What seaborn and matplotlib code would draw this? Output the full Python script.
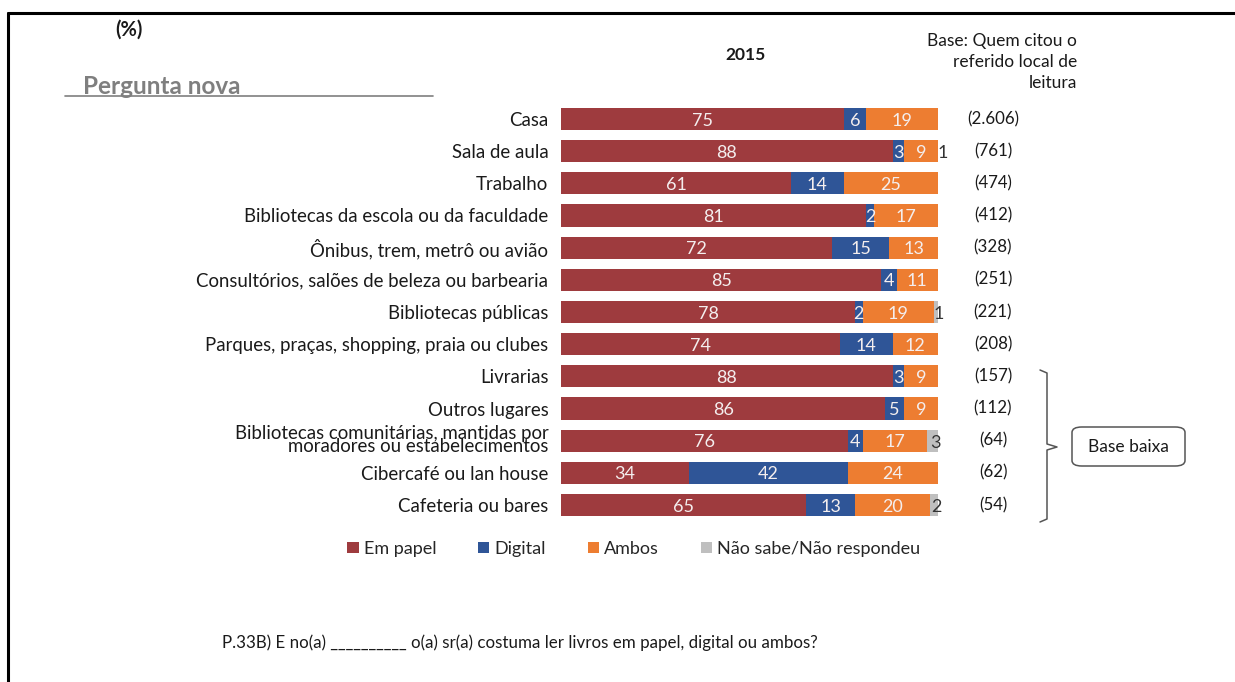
import numpy as np
import pandas as pd
import matplotlib
matplotlib.use("Agg")
import matplotlib.pyplot as plt
import seaborn as sns
from matplotlib.patches import FancyBboxPatch, Patch
from matplotlib.lines import Line2D

# ---- data -------------------------------------------------------------
locais = [
    "Casa",
    "Sala de aula",
    "Trabalho",
    "Bibliotecas da escola ou da faculdade",
    "Ônibus, trem, metrô ou avião",
    "Consultórios, salões de beleza ou barbearia",
    "Bibliotecas públicas",
    "Parques, praças, shopping, praia ou clubes",
    "Livrarias",
    "Outros lugares",
    "Bibliotecas comunitárias, mantidas por\nmoradores ou estabelecimentos",
    "Cibercafé ou lan house",
    "Cafeteria ou bares",
]
em_papel = [75, 88, 61, 81, 72, 85, 78, 74, 88, 86, 76, 34, 65]
digital = [6, 3, 14, 2, 15, 4, 2, 14, 3, 5, 4, 42, 13]
ambos = [19, 9, 25, 17, 13, 11, 19, 12, 9, 9, 17, 24, 20]
nao_sabe = [0, 1, 0, 0, 0, 0, 1, 0, 0, 0, 3, 0, 2]
bases = ["(2.606)", "(761)", "(474)", "(412)", "(328)", "(251)", "(221)",
         "(208)", "(157)", "(112)", "(64)", "(62)", "(54)"]

series_names = ["Em papel", "Digital", "Ambos", "Não sabe/Não respondeu"]
series_vals = [em_papel, digital, ambos, nao_sabe]
colors = ["#9E3B3E", "#2F5597", "#ED7D31", "#BFBFBF"]

sns.set_theme(style="white")
plt.rcParams["font.family"] = ["Lato", "DejaVu Sans"]

W, H = 1235, 682
fig = plt.figure(figsize=(W / 100, H / 100), dpi=100)

def fx(px):
    return px / W

def fy(py):
    return 1 - py / H

# axes for the stacked bars
ax = fig.add_axes([fx(561), fy(521.1), fx(377), (521.1 - 102.9) / H])

df = pd.DataFrame({"local": locais})
cum = np.zeros(len(locais))
cums = []
for vals in series_vals:
    cum = cum + np.array(vals, dtype=float)
    cums.append(cum.copy())

# stacked bars: draw cumulative totals from the largest to the smallest
for i in reversed(range(len(series_vals))):
    d = df.copy()
    d["v"] = cums[i]
    sns.barplot(data=d, x="v", y="local", orient="h", color=colors[i],
                saturation=1, width=0.69, ax=ax, linewidth=0)

ax.set_xlim(0, 100)
ax.set_ylim(len(locais) - 0.5, -0.5)
ax.set_xlabel("")
ax.set_ylabel("")
ax.set_xticks([])
for s in ax.spines.values():
    s.set_visible(False)
ax.tick_params(axis="y", length=0, pad=9, labelsize=13.4, colors="#1a1a1a")
for lab in ax.get_yticklabels():
    lab.set_linespacing(0.72)

# value labels
for r in range(len(locais)):
    start = 0.0
    for i, vals in enumerate(series_vals):
        v = vals[r]
        if v > 0:
            if i < 3:
                ax.text(start + v / 2, r + 0.05, str(v), ha="center", va="center",
                        fontsize=13, color="#F4EEEE")
            else:
                ax.text(start + v / 2 + 0.7, r + 0.07, str(v), ha="center", va="center",
                        fontsize=13, color="#333333")
        start += v

# base sizes column
for r, b in enumerate(bases):
    yc = 119 + r * (505 - 119) / 12
    fig.text(fx(993), fy(yc), b, ha="center", va="center", fontsize=12.2, color="#1a1a1a")

# header texts
fig.text(fx(129), fy(30), "(%)", ha="center", va="center", fontsize=14.5,
         fontweight="bold", color="#1a1a1a")
fig.text(fx(746), fy(55), "2015", ha="center", va="center", fontsize=12.5,
         fontweight="bold", color="#1a1a1a")
fig.text(fx(1077), fy(62), "Base: Quem citou o\nreferido local de\nleitura", ha="right",
         va="center", fontsize=12.5, color="#1a1a1a", linespacing=1.4,
         multialignment="right")
fig.text(fx(83), fy(86), "Pergunta nova", ha="left", va="center", fontsize=17.5,
         fontweight="bold", color="#7F7F7F")
fig.add_artist(Line2D([fx(65), fx(433)], [fy(96), fy(96)], color="#7F7F7F", lw=1.2))

# frame lines on top and left
fig.add_artist(Line2D([fx(8), fx(1235)], [fy(13), fy(13)], color="black", lw=2.2))
fig.add_artist(Line2D([fx(8), fx(8)], [fy(13), fy(682)], color="black", lw=2.2))

# bracket marking the low-base rows
bx = [fx(1040), fx(1047), fx(1047), fx(1057), fx(1047), fx(1047), fx(1040)]
by = [fy(370), fy(373), fy(444), fy(447), fy(450), fy(519), fy(522)]
fig.add_artist(Line2D(bx, by, color="#555555", lw=1.1))
box = FancyBboxPatch((fx(1072), fy(466)), fx(113), (466 - 427) / H,
                     boxstyle="round,pad=0,rounding_size=0.008",
                     transform=fig.transFigure, facecolor="white",
                     edgecolor="#555555", lw=1.1)
fig.add_artist(box)
fig.text(fx(1128), fy(447), "Base baixa", ha="center", va="center", fontsize=12.5,
         color="#1a1a1a")

# legend
handles = [Patch(facecolor=c, edgecolor="none") for c in colors]
fig.legend(handles, series_names, loc="center", bbox_to_anchor=(fx(634), fy(549)),
           ncol=4, frameon=False, fontsize=13, handlelength=0.62, handleheight=0.62,
           handletextpad=0.3, columnspacing=2.3)

# footnote
fig.text(fx(222), fy(643), "P.33B) E no(a) __________ o(a) sr(a) costuma ler livros em papel, digital ou ambos?",
         ha="left", va="center", fontsize=12.2, color="#1a1a1a")

fig.savefig("out.png", dpi=100, facecolor="white")
